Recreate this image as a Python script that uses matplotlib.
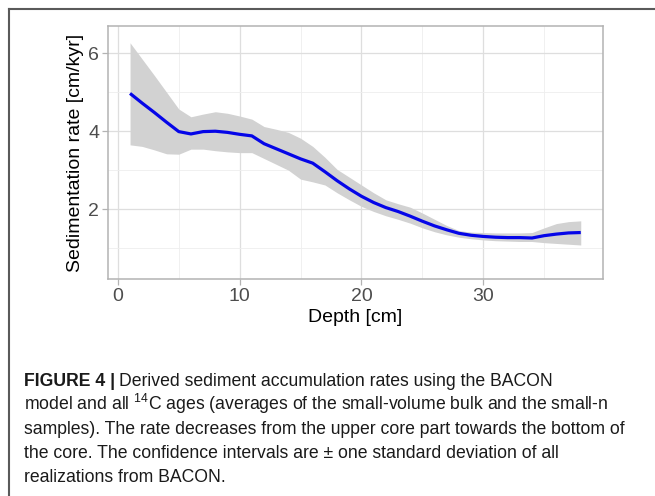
import matplotlib
matplotlib.use("Agg")
import matplotlib.pyplot as plt
from matplotlib.ticker import MultipleLocator
from matplotlib.lines import Line2D

plt.rcParams['font.family'] = ['Liberation Sans', 'DejaVu Sans']
plt.rcParams['mathtext.fontset'] = 'custom'
plt.rcParams['mathtext.rm'] = 'Liberation Sans'

depth = list(range(1, 39))
rate_mean = [4.97, 4.72, 4.48, 4.23, 3.99, 3.93, 3.99, 4.00, 3.97, 3.92,
             3.88, 3.68, 3.55, 3.42, 3.29, 3.18, 2.96, 2.73, 2.52, 2.33,
             2.17, 2.04, 1.94, 1.82, 1.69, 1.57, 1.47, 1.38, 1.33, 1.30,
             1.28, 1.27, 1.27, 1.26, 1.32, 1.36, 1.39, 1.40]
rate_upper = [6.27, 5.85, 5.43, 5.00, 4.57, 4.37, 4.44, 4.50, 4.46, 4.39,
              4.31, 4.12, 4.05, 3.97, 3.82, 3.61, 3.33, 3.02, 2.82, 2.62,
              2.42, 2.24, 2.14, 2.05, 1.90, 1.74, 1.58, 1.45, 1.41, 1.40,
              1.39, 1.39, 1.39, 1.40, 1.52, 1.63, 1.68, 1.70]
rate_lower = [3.65, 3.61, 3.52, 3.42, 3.41, 3.54, 3.54, 3.50, 3.47, 3.45,
              3.45, 3.30, 3.15, 3.00, 2.77, 2.70, 2.62, 2.42, 2.24, 2.07,
              1.94, 1.83, 1.74, 1.64, 1.52, 1.42, 1.34, 1.28, 1.24, 1.21,
              1.19, 1.18, 1.17, 1.17, 1.14, 1.12, 1.10, 1.08]
x_ticks = [0, 10, 20, 30]
y_ticks = [2, 4, 6]
x_label = "Depth [cm]"
y_label = "Sedimentation rate [cm/kyr]"

W, H = 655, 496
fig = plt.figure(figsize=(W / 100, H / 100), dpi=100)

# frame lines
fig.add_artist(Line2D([9 / W, 1], [1 - 9 / H, 1 - 9 / H], color='#5a5a5a', lw=1.5,
                      transform=fig.transFigure))
fig.add_artist(Line2D([9 / W, 9 / W], [0, 1 - 9 / H], color='#5a5a5a', lw=1.5,
                      transform=fig.transFigure))

left, right, top, bottom = 107.5, 603.3, 26.0, 279.3
ax = fig.add_axes([left / W, 1 - bottom / H, (right - left) / W, (bottom - top) / H])

ax.fill_between(depth, rate_lower, rate_upper, color='#d2d2d2', lw=0, zorder=2)
ax.plot(depth, rate_mean, color='#0505e8', lw=2.3, zorder=3, solid_capstyle='butt')

ax.set_xlim(-0.85, 39.85)
ax.set_ylim(0.2, 6.7)
ax.set_xticks(x_ticks)
ax.set_yticks(y_ticks)
ax.xaxis.set_minor_locator(MultipleLocator(5))
ax.yaxis.set_minor_locator(MultipleLocator(1))
ax.grid(which='major', color='#dedede', lw=0.9, zorder=0)
ax.grid(which='minor', color='#eeeeee', lw=0.6, zorder=0)
ax.set_axisbelow(True)
for s in ax.spines.values():
    s.set_color('#b3b3b3')
    s.set_linewidth(1.1)
ax.tick_params(which='major', length=4, width=0.9, color='#b3b3b3',
               labelsize=14, labelcolor='#4d4d4d', pad=2)
ax.tick_params(which='minor', length=0)
ax.set_xlabel(x_label, fontsize=14, color='black', labelpad=3)
ax.set_ylabel(y_label, fontsize=14, color='black', labelpad=3)

# caption
cap_size = 12.7
x0 = 24
base1 = 386
t1 = fig.text(x0 / W, 1 - base1 / H, "FIGURE 4 |", fontsize=cap_size,
              fontweight='bold', va='baseline', ha='left', color='#1a1a1a')
fig.canvas.draw()
bb = t1.get_window_extent()
fig.text((bb.x1 + 4) / W, 1 - base1 / H,
         "Derived sediment accumulation rates using the BACON",
         fontsize=cap_size, va='baseline', ha='left', color='#1a1a1a')
lines = [
    r"model and all $^{14}$C ages (averages of the small-volume bulk and the small-n",
    "samples). The rate decreases from the upper core part towards the bottom of",
    "the core. The confidence intervals are \u00b1 one standard deviation of all",
    "realizations from BACON.",
]
for i, s in enumerate(lines):
    fig.text(x0 / W, 1 - (base1 + 24 * (i + 1)) / H, s, fontsize=cap_size,
             va='baseline', ha='left', color='#1a1a1a')

fig.savefig("out.png", dpi=100)
